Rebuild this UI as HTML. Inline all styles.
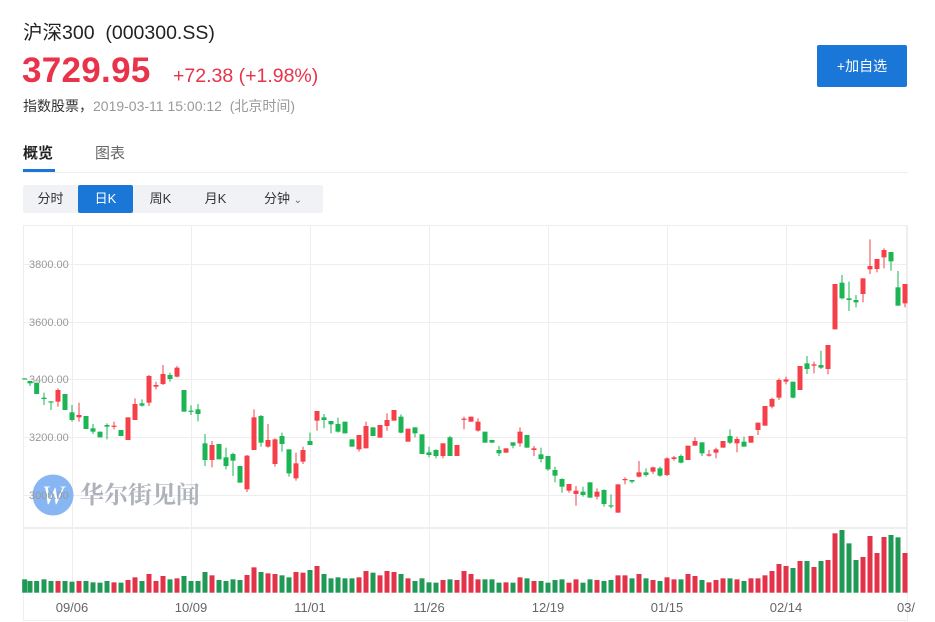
<!DOCTYPE html>
<html><head><meta charset="utf-8">
<style>
*{margin:0;padding:0;box-sizing:border-box}
body{width:935px;height:622px;background:#fff;font-family:"Liberation Sans","Noto Sans CJK SC",sans-serif;position:relative;overflow:hidden;color:#333}
.abs{position:absolute;white-space:nowrap}
</style></head><body>
<div class="abs" style="left:23px;top:16px;font-size:19.5px;color:#222">沪深300&nbsp;&nbsp;(000300.SS)</div>
<div class="abs" style="left:22px;top:51px;font-size:35px;font-weight:bold;color:#e8334a;letter-spacing:0.3px">3729.95</div>
<div class="abs" style="left:173px;top:65px;font-size:19.5px;color:#e8334a">+72.38 (+1.98%)</div>
<div class="abs" style="left:23px;top:96px;font-size:14px;color:#333">指数股票，<span style="color:#999">2019-03-11 15:00:12&nbsp;&nbsp;(北京时间)</span></div>
<div class="abs" style="left:817px;top:45px;width:90px;height:42px;background:#1a77d8;border-radius:2px;color:#fff;font-size:14px;line-height:42px;text-align:center">+加自选</div>
<div class="abs" style="left:23px;top:142px;font-size:15px;font-weight:bold;color:#222">概览</div>
<div class="abs" style="left:95px;top:142px;font-size:15px;color:#666">图表</div>
<div class="abs" style="left:23px;top:172px;width:885px;height:1px;background:#eee"></div>
<div class="abs" style="left:23px;top:169px;width:32px;height:3px;background:#1a77d8"></div>
<div class="abs" style="left:23px;top:185px;width:300px;height:28px;background:#f0f2f5;border-radius:2px;font-size:13px;line-height:28px;color:#333">
<span class="abs" style="left:0;width:55px;text-align:center">分时</span>
<span class="abs" style="left:55px;width:55px;text-align:center;background:#1a77d8;color:#fff;border-radius:2px">日K</span>
<span class="abs" style="left:110px;width:55px;text-align:center">周K</span>
<span class="abs" style="left:165px;width:55px;text-align:center">月K</span>
<span class="abs" style="left:220px;width:80px;text-align:center">分钟 <span style="font-size:10px;color:#666">&#8964;</span></span>
</div>
<svg id="c" class="abs" style="left:0;top:0" width="935" height="622" xmlns="http://www.w3.org/2000/svg">
<rect x="23.5" y="225.5" width="884" height="395" fill="none" stroke="#eee"/>
<g stroke="#eee" stroke-width="1">
<line x1="23" x2="908" y1="264.5" y2="264.5"/><line x1="23" x2="908" y1="322.5" y2="322.5"/><line x1="23" x2="908" y1="379.5" y2="379.5"/><line x1="23" x2="908" y1="437.5" y2="437.5"/><line x1="23" x2="908" y1="495.5" y2="495.5"/>
<line x1="72.5" x2="72.5" y1="226" y2="595"/><line x1="191.5" x2="191.5" y1="226" y2="595"/><line x1="310.5" x2="310.5" y1="226" y2="595"/><line x1="429.5" x2="429.5" y1="226" y2="595"/><line x1="548.5" x2="548.5" y1="226" y2="595"/><line x1="667.5" x2="667.5" y1="226" y2="595"/><line x1="786.5" x2="786.5" y1="226" y2="595"/><line x1="906.5" x2="906.5" y1="226" y2="595"/>
</g>
<rect x="23" y="527" width="885" height="2" fill="#eee"/>
<circle cx="53" cy="495" r="20.5" fill="#7aaef2" opacity="0.9"/>
<text x="53" y="504" font-size="26" fill="#fff" text-anchor="middle" font-family="Liberation Serif,serif" font-style="italic">W</text>
<text x="80" y="503" font-size="24" fill="#aeb2ba" font-weight="bold" font-family="Noto Serif CJK SC,serif">华尔街见闻</text>
<g font-size="11" fill="#999" font-family="Liberation Sans,sans-serif">
<text x="29" y="268">3800.00</text><text x="29" y="326">3600.00</text><text x="29" y="383">3400.00</text><text x="29" y="441">3200.00</text><text x="29" y="499">3000.00</text>
</g>
<g font-size="13" fill="#666" text-anchor="middle" font-family="Liberation Sans,sans-serif">
<text x="72" y="612">09/06</text><text x="191" y="612">10/09</text><text x="310" y="612">11/01</text><text x="429" y="612">11/26</text><text x="548" y="612">12/19</text><text x="667" y="612">01/15</text><text x="786" y="612">02/14</text><text x="906" y="612">03/</text>
</g>
<g id="k"></g>
</svg>
<script>
var R='r',G='g';
var A=[[14,475,477,475,477,G],[30,483,490,483,498,G],[50,488,522,488,522,G],[72,533,537,518,555,G],[93,544,546,545,570,G],[114,510,545,505,560,R],[135,522,570,522,570,G],[156,577,600,555,605,G],[177,585,592,548,605,R],[198,588,627,588,627,G],[219,625,635,612,642,G],[240,635,652,635,652,G],[261,615,620,610,658,G],[282,617,619,605,628,R],[303,630,648,630,648,G],[324,592,660,592,660,R],[345,552,600,535,600,R],[366,550,557,538,560,G],[387,468,548,465,558,R],[408,495,500,485,508,R],[429,462,492,435,495,R],[450,465,477,458,485,G],[471,443,470,438,472,R],[492,510,575,510,575,G],[513,572,574,556,585,G],[534,568,582,552,604,G],[555,670,720,642,738,G],[576,675,720,663,742,R],[597,672,718,672,718,G],[618,712,738,683,748,G],[639,702,722,698,768,G],[660,738,788,738,788,G],[681,707,808,705,816,R],[702,592,690,568,690,R],[723,588,668,585,680,G],[744,660,680,612,683,R],[765,658,732,655,740,R],[786,648,672,638,695,G],[807,688,760,688,770,G],[828,730,775,698,782,R],[849,690,725,680,732,R],[870,663,675,638,675,G],[891,573,602,573,632,R],[912,592,600,582,625,G],[933,603,613,603,640,G],[954,612,635,593,638,G],[975,605,640,605,640,G],[996,658,680,658,680,G],[1017,645,688,645,695,R],[1038,618,685,605,685,R],[1059,622,648,622,648,G],[1080,615,653,615,653,R],[1101,600,618,580,632,R],[1122,570,602,570,602,R],[1143,590,638,583,640,G],[1164,626,665,626,665,R],[1185,622,640,622,652,G],[1206,643,702,643,702,G],[1227,697,705,680,712,G],[1248,690,708,688,715,G],[1269,670,708,670,715,R],[1290,652,708,648,708,G],[1311,675,708,675,708,R],[1332,596,598,590,628,R]];
var B=[[3,590,605,590,605,R],[24,605,632,595,635,R],[45,635,668,635,668,G],[66,660,668,660,668,G],[87,690,700,678,708,G],[108,685,698,685,698,R],[129,667,677,667,685,G],[150,635,670,622,680,R],[171,645,683,645,683,G],[192,685,690,678,708,R],[213,703,717,683,727,G],[234,708,748,708,752,G],[255,750,767,740,787,G],[276,777,800,775,818,G],[297,792,812,792,818,R],[318,812,822,798,857,R],[339,815,825,800,830,G],[360,787,833,787,833,G],[381,815,830,805,838,R],[402,810,852,808,860,G],[423,856,858,823,865,G],[444,793,878,793,878,R],[465,777,779,772,793,R],[486,780,785,780,790,G],[507,757,770,723,772,R],[528,757,765,745,770,G],[549,742,755,740,762,R],[570,745,767,740,770,G],[591,715,765,712,768,R],[612,712,717,708,722,R],[633,708,728,703,730,G],[654,677,720,677,720,R],[675,663,677,652,677,R],[696,667,700,667,708,G],[717,703,707,690,710,R],[738,688,698,683,715,R],[759,663,683,663,683,R],[780,648,668,628,672,G],[801,657,670,650,697,R],[822,665,680,650,680,G],[843,648,668,648,668,R],[864,608,630,608,645,R],[885,558,617,558,617,R],[906,537,560,533,565,R],[927,480,533,475,540,R],[948,478,485,470,493,R],[969,485,533,485,535,G],[990,438,510,438,510,R],[1011,430,447,408,462,G],[1032,433,437,425,460,R],[1053,435,443,392,447,G],[1074,375,447,375,463,R],[1095,192,328,192,328,R],[1116,188,235,165,238,G],[1137,235,240,185,273,G],[1158,240,247,225,262,G],[1179,175,222,175,247,R],[1200,138,148,58,162,R],[1221,117,147,117,157,R],[1242,90,112,85,145,R],[1263,96,124,96,152,G],[1284,202,257,153,257,G],[1305,192,250,192,262,R]];
var V=[1078,1083,1083,1078,1083,1083,1083,1085,1083,1083,1087,1088,1083,1087,1088,1080,1072,1083,1062,1083,1068,1078,1075,1068,1083,1083,1056,1066,1080,1083,1078,1080,1065,1042,1056,1060,1062,1066,1072,1056,1058,1050,1038,1062,1075,1072,1075,1075,1072,1053,1058,1066,1053,1056,1062,1075,1083,1075,1087,1088,1080,1078,1080,1053,1062,1078,1078,1078,1088,1087,1088,1072,1075,1083,1083,1088,1080,1078,1088,1078,1088,1078,1080,1083,1080,1066,1066,1075,1062,1075,1080,1083,1072,1078,1078,1062,1068,1080,1087,1080,1075,1075,1078,1083,1075,1075,1066,1053,1032,1038,1044,1023,1023,1041,1023,1020,940,930,970,1020,1011,948,999,951,945,952,999];
var all=[];A.forEach(function(d){all.push([20+d[0]/3].concat(d.slice(1)))});B.forEach(function(d){all.push([470+d[0]/3].concat(d.slice(1)))});
var s='';
all.forEach(function(d,i){
 var x=d[0],c=d[5]==R?'#f5404a':'#1bb553',vc=d[5]==R?'#e2334b':'#1f9955';
 var bt=220+d[1]/3,bb=220+d[2]/3,wt=220+d[3]/3,wb=220+d[4]/3;
 if(x>908)return;
 s+='<rect x="'+(x-0.5)+'" y="'+wt+'" width="1" height="'+Math.max(wb-wt,1)+'" fill="'+c+'"/>';
 s+='<rect x="'+(x-2.5)+'" y="'+bt+'" width="5" height="'+Math.max(bb-bt,1.2)+'" fill="'+c+'"/>';
 if(V[i]){var vt=220+V[i]/3,vb=592.7;s+='<rect x="'+(x-2.5)+'" y="'+vt+'" width="5" height="'+(vb-vt)+'" fill="'+vc+'"/>';}
});
document.getElementById('k').innerHTML=s;
</script>
</body></html>
